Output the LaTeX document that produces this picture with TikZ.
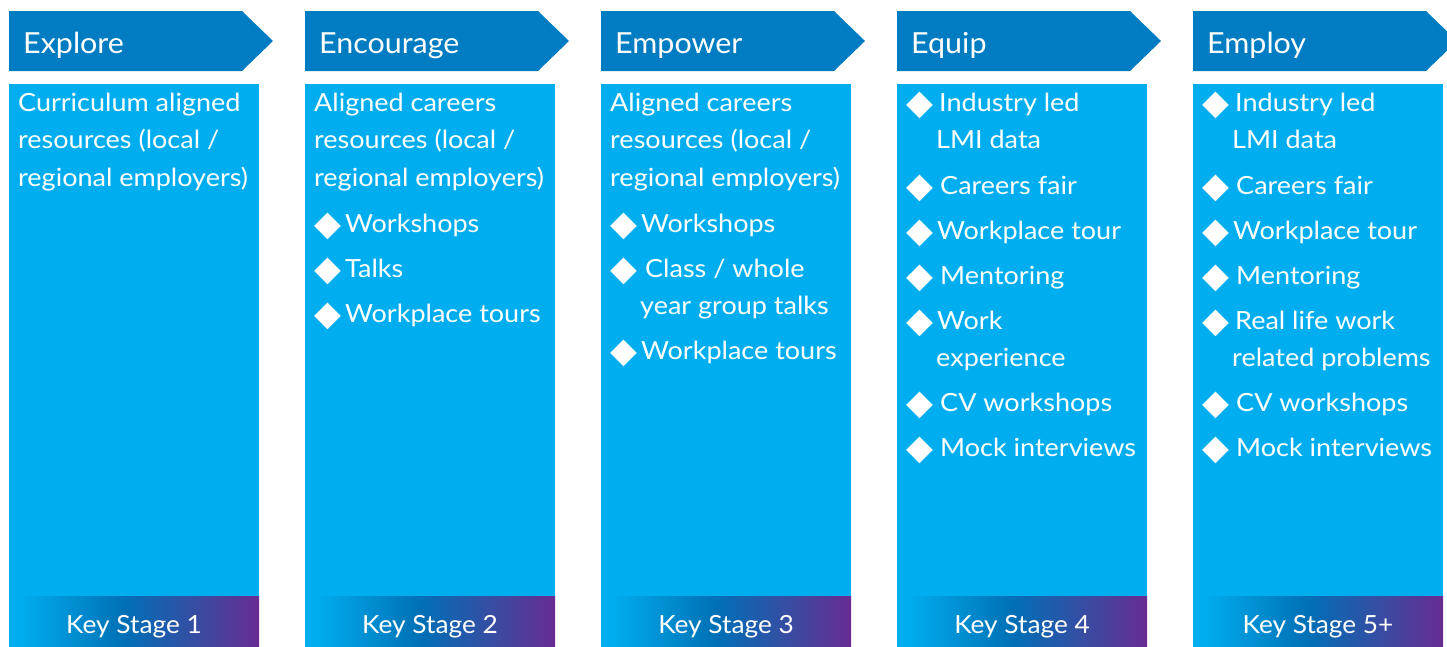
\documentclass[tikz,border=0pt]{standalone}
\usepackage{fontspec}
\setmainfont{Lato}
\newfontfamily\bodyf[FakeStretch=1.08]{Lato}
\newfontfamily\kef[FakeStretch=1.05]{Lato}
\newfontfamily\symf{DejaVu Sans}
\definecolor{hdrblue}{RGB}{0,124,194}
\definecolor{bodycyan}{RGB}{0,174,239}
\definecolor{gradblue}{RGB}{0,112,182}
\definecolor{gradpurple}{RGB}{104,44,145}
\pgfdeclarehorizontalshading{ksgrad}{100bp}{color(0bp)=(bodycyan); color(27bp)=(bodycyan); color(48bp)=(gradblue); color(75bp)=(gradpurple); color(100bp)=(gradpurple)}
\tikzset{
  hdrshape/.style={fill=hdrblue},
  bodyshape/.style={fill=bodycyan},
  barshape/.style={shading=ksgrad},
  hdrtxt/.style={anchor=base west, inner sep=0pt, text=white, font=\kef\fontsize{29}{34}\selectfont},
  txt/.style={anchor=base west, inner sep=0pt, text=white, font=\bodyf\fontsize{25}{30}\selectfont},
  bul/.style={anchor=base west, inner sep=0pt, text=white, yshift=-3pt, font=\symf\fontsize{35}{40}\selectfont},
  kstxt/.style={anchor=base, inner sep=0pt, text=white, font=\kef\fontsize{25}{30}\selectfont},
}
\newcommand\kscolumn[4]{%
  \fill[hdrshape] (#1,11) -- ++(233,0) -- ++(31,30) -- ++(-31,30) -- ++(-233,0) -- cycle;
  \fill[bodyshape] (#1,84) rectangle ++(250,512);
  \shade[barshape] (#1,596) rectangle ++(250,50);
  \node[hdrtxt] (h#4) at (#1+14,53) {#2};
  \node[kstxt] (k#4) at (#1+125,633) {#3};
}
% \bitem{name}{x}{y}{text offset}{text}
\newcommand\bitem[5]{%
  \node[bul] (#1b) at (#2+9,#3) {◆};
  \node[txt] (#1t) at (#2+#4,#3) {#5};
}
\begin{document}
\begin{tikzpicture}[x=1pt,y=-1pt]
\useasboundingbox (0,0) rectangle (1447,646);
\clip (0,0) rectangle (1447,646);
\fill[white] (0,0) rectangle (1447,646);
\kscolumn{9}{Explore}{Key Stage 1}{a}
\kscolumn{305}{Encourage}{Key Stage 2}{b}
\kscolumn{601}{Empower}{Key Stage 3}{c}
\kscolumn{897}{Equip}{Key Stage 4}{d}
\kscolumn{1193}{Employ}{Key Stage 5+}{e}
% column 1
\node[txt] (a1) at (18,111) {Curriculum aligned};
\node[txt] (a2) at (18,148.5) {resources (local /};
\node[txt] (a3) at (18,186) {regional employers)};
% column 2
\node[txt] (b1) at (314,111) {Aligned careers};
\node[txt] (b2) at (314,148.5) {resources (local /};
\node[txt] (b3) at (314,186) {regional employers)};
\bitem{b4}{305}{232}{40}{Workshops}
\bitem{b5}{305}{277}{40}{Talks}
\bitem{b6}{305}{322}{40}{Workplace tours}
% column 3
\node[txt] (c1) at (610,111) {Aligned careers};
\node[txt] (c2) at (610,148.5) {resources (local /};
\node[txt] (c3) at (610,186) {regional employers)};
\bitem{c4}{601}{232}{40}{Workshops}
\bitem{c5}{601}{277}{44}{Class / whole}
\node[txt] (c6) at (640,314.5) {year group talks};
\bitem{c7}{601}{359}{40}{Workplace tours}
% column 4
\bitem{d1}{897}{111}{42}{Industry led}
\node[txt] (d2) at (936,148.5) {LMI data};
\bitem{d3}{897}{194}{43}{Careers fair}
\bitem{d4}{897}{239}{40}{Workplace tour}
\bitem{d5}{897}{284}{43}{Mentoring}
\bitem{d6}{897}{329}{40}{Work}
\node[txt] (d7) at (936,366.5) {experience};
\bitem{d8}{897}{411}{43}{CV workshops}
\bitem{d9}{897}{456}{43}{Mock interviews}
% column 5
\bitem{e1}{1193}{111}{42}{Industry led}
\node[txt] (e2) at (1232,148.5) {LMI data};
\bitem{e3}{1193}{194}{43}{Careers fair}
\bitem{e4}{1193}{239}{40}{Workplace tour}
\bitem{e5}{1193}{284}{43}{Mentoring}
\bitem{e6}{1193}{329}{42}{Real life work}
\node[txt] (e7) at (1232,366.5) {related problems};
\bitem{e8}{1193}{411}{43}{CV workshops}
\bitem{e9}{1193}{456}{43}{Mock interviews}
\end{tikzpicture}
\end{document}
